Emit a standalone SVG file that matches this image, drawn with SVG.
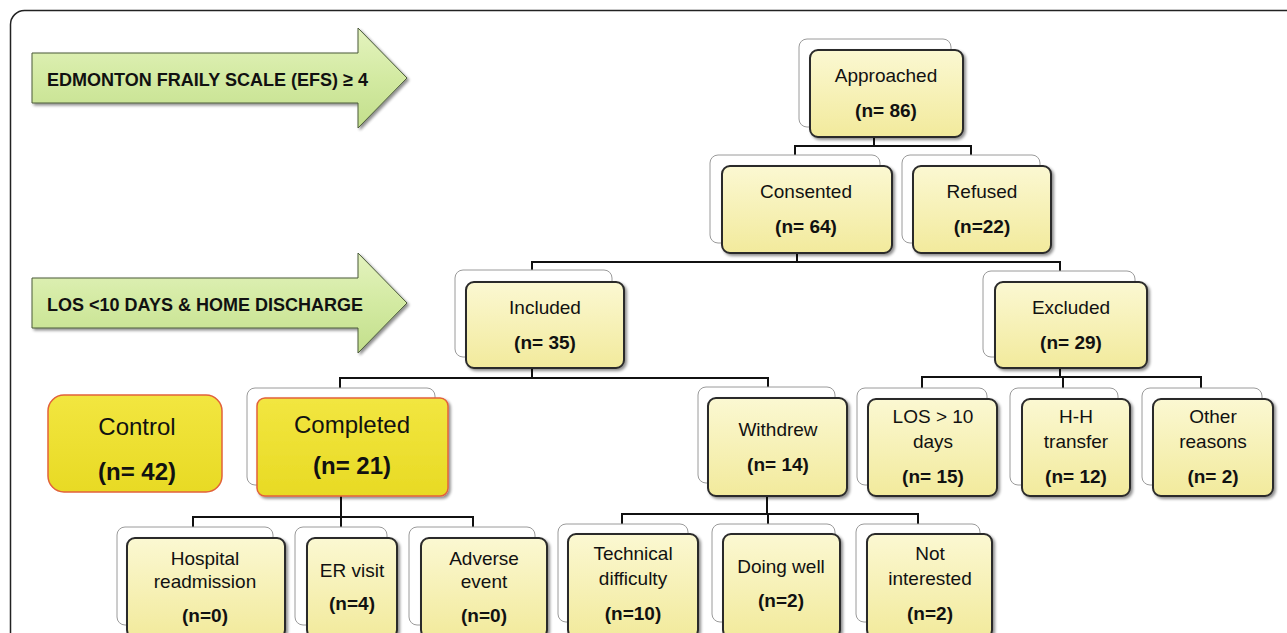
<svg xmlns="http://www.w3.org/2000/svg" width="1287" height="633" viewBox="0 0 1287 633">
<defs>
<linearGradient id="gy" x1="0" y1="0" x2="0" y2="1">
<stop offset="0" stop-color="#FBF8D2"/>
<stop offset="1" stop-color="#F2EA9C"/>
</linearGradient>
<linearGradient id="gb" x1="0" y1="0" x2="0" y2="1">
<stop offset="0" stop-color="#F2E640"/>
<stop offset="1" stop-color="#E8DA24"/>
</linearGradient>
<linearGradient id="gg" x1="0" y1="0" x2="0" y2="1">
<stop offset="0" stop-color="#E4F3BF"/>
<stop offset="0.5" stop-color="#D3EAA2"/>
<stop offset="1" stop-color="#C3DF8C"/>
</linearGradient>
<filter id="sh" x="-10%" y="-10%" width="130%" height="130%">
<feGaussianBlur in="SourceAlpha" stdDeviation="1.5"/>
<feOffset dx="1.5" dy="2" result="o"/>
<feComponentTransfer><feFuncA type="linear" slope="0.45"/></feComponentTransfer>
<feMerge><feMergeNode/><feMergeNode in="SourceGraphic"/></feMerge>
</filter>
</defs>
<style>
.frame{fill:none;stroke:#222;stroke-width:1.5}
.back{fill:#fff;stroke:#9a9a9a;stroke-width:1}
.front{fill:url(#gy);stroke:#2a2a2a;stroke-width:2;filter:url(#sh)}
.bright{fill:url(#gb);stroke:#E2613A;stroke-width:1.5}
.arrow{fill:url(#gg);stroke:#4a5a3a;stroke-width:1;filter:url(#sh)}
.t{font-family:"Liberation Sans",Arial,sans-serif;font-size:19px;fill:#111;text-anchor:middle}
.b{font-weight:bold}
.big{font-size:24px}
.at{font-family:"Liberation Sans",Arial,sans-serif;font-size:19px;font-weight:bold;fill:#111}
.c{fill:none;stroke:#111;stroke-width:2}
</style>
<rect class="frame" x="10.5" y="10.5" width="1320" height="700" rx="14"/>

<g id="arrow-efs">
<path class="arrow" d="M32,53 L358,53 L358,28 L407,78 L358,128 L358,103 L32,103 Z"/>
<text class="at" x="47" y="86" textLength="321" lengthAdjust="spacingAndGlyphs">EDMONTON  FRAILY SCALE (EFS) ≥ 4</text>
</g>
<g id="arrow-los">
<path class="arrow" d="M32,278 L358,278 L358,253 L407,303 L358,353 L358,328 L32,328 Z"/>
<text class="at" x="47" y="311" textLength="316" lengthAdjust="spacingAndGlyphs">LOS &lt;10 DAYS &amp; HOME DISCHARGE</text>
</g>

<g id="connectors">
<path class="c" d="M874,137 V146 M795,155 V146 H971 V155"/>
<path class="c" d="M797,253 V262 M532,271 V262 H1060 V271"/>
<path class="c" d="M532,368 V378 M340,388 V378 H768 V387"/>
<path class="c" d="M1060,368 V377 M922,388 V377 H1201 V388 M1063,377 V388"/>
<path class="c" d="M341,496 V517 M193,527 V517 H473 V527 M341,517 V527"/>
<path class="c" d="M767,496 V514 M622,524 V514 H918 V524 M768,514 V524"/>
</g>

<g id="approached">
<rect class="back" x="799" y="39" width="152" height="88" rx="8"/>
<rect class="front" x="810" y="50" width="153" height="87" rx="8"/>
<text class="t" x="886" y="82">Approached</text>
<text class="t b" x="886" y="117">(n= 86)</text>
</g>
<g id="consented">
<rect class="back" x="710" y="155" width="170" height="88" rx="8"/>
<rect class="front" x="722" y="166" width="170" height="87" rx="8"/>
<text class="t" x="806" y="198">Consented</text>
<text class="t b" x="806" y="233">(n= 64)</text>
</g>
<g id="refused">
<rect class="back" x="902" y="155" width="138" height="88" rx="8"/>
<rect class="front" x="913" y="166" width="138" height="87" rx="8"/>
<text class="t" x="982" y="198">Refused</text>
<text class="t b" x="982" y="233">(n=22)</text>
</g>
<g id="included">
<rect class="back" x="455" y="270" width="157" height="87" rx="8"/>
<rect class="front" x="466" y="282" width="158" height="86" rx="8"/>
<text class="t" x="545" y="314">Included</text>
<text class="t b" x="545" y="349">(n= 35)</text>
</g>
<g id="excluded">
<rect class="back" x="983" y="271" width="152" height="86" rx="8"/>
<rect class="front" x="995" y="282" width="152" height="86" rx="8"/>
<text class="t" x="1071" y="314">Excluded</text>
<text class="t b" x="1071" y="349">(n= 29)</text>
</g>
<g id="control">
<rect class="bright" x="48" y="395" width="174" height="97" rx="16"/>
<text class="t big" x="137" y="435">Control</text>
<text class="t b big" x="137" y="480">(n= 42)</text>
</g>
<g id="completed">
<rect class="back" x="247" y="388" width="188" height="97" rx="8"/>
<rect class="bright" x="257" y="398" width="191" height="98" rx="8" style="filter:url(#sh)"/>
<text class="t big" x="352" y="433">Completed</text>
<text class="t b big" x="352" y="474">(n= 21)</text>
</g>
<g id="withdrew">
<rect class="back" x="698" y="387" width="137" height="96" rx="8"/>
<rect class="front" x="708" y="398" width="139" height="98" rx="8"/>
<text class="t" x="778" y="436">Withdrew</text>
<text class="t b" x="778" y="471">(n= 14)</text>
</g>
<g id="los10">
<rect class="back" x="857" y="388" width="130" height="97" rx="8"/>
<rect class="front" x="868" y="399" width="129" height="97" rx="8"/>
<text class="t" x="933" y="423">LOS &gt; 10</text>
<text class="t" x="933" y="448">days</text>
<text class="t b" x="933" y="483">(n= 15)</text>
</g>
<g id="hh">
<rect class="back" x="1010" y="388" width="108" height="97" rx="8"/>
<rect class="front" x="1022" y="399" width="108" height="97" rx="8"/>
<text class="t" x="1076" y="423">H-H</text>
<text class="t" x="1076" y="448">transfer</text>
<text class="t b" x="1076" y="483">(n= 12)</text>
</g>
<g id="other">
<rect class="back" x="1142" y="388" width="120" height="97" rx="8"/>
<rect class="front" x="1153" y="399" width="120" height="97" rx="8"/>
<text class="t" x="1213" y="423">Other</text>
<text class="t" x="1213" y="448">reasons</text>
<text class="t b" x="1213" y="483">(n= 2)</text>
</g>
<g id="hospital">
<rect class="back" x="117" y="527" width="156" height="98" rx="8"/>
<rect class="front" x="127" y="538" width="158" height="100" rx="8"/>
<text class="t" x="205" y="565">Hospital</text>
<text class="t" x="205" y="588">readmission</text>
<text class="t b" x="205" y="622">(n=0)</text>
</g>
<g id="er">
<rect class="back" x="295" y="527" width="92" height="98" rx="8"/>
<rect class="front" x="307" y="538" width="90" height="100" rx="8"/>
<text class="t" x="352" y="577">ER visit</text>
<text class="t b" x="352" y="610">(n=4)</text>
</g>
<g id="adverse">
<rect class="back" x="409" y="527" width="126" height="98" rx="8"/>
<rect class="front" x="421" y="538" width="126" height="100" rx="8"/>
<text class="t" x="484" y="565">Adverse</text>
<text class="t" x="484" y="588">event</text>
<text class="t b" x="484" y="622">(n=0)</text>
</g>
<g id="technical">
<rect class="back" x="558" y="524" width="130" height="98" rx="8"/>
<rect class="front" x="568" y="534" width="130" height="104" rx="8"/>
<text class="t" x="633" y="560">Technical</text>
<text class="t" x="633" y="585">difficulty</text>
<text class="t b" x="633" y="620">(n=10)</text>
</g>
<g id="doingwell">
<rect class="back" x="712" y="524" width="123" height="98" rx="8"/>
<rect class="front" x="723" y="534" width="117" height="104" rx="8"/>
<text class="t" x="781" y="573">Doing well</text>
<text class="t b" x="781" y="607">(n=2)</text>
</g>
<g id="notinterested">
<rect class="back" x="856" y="524" width="124" height="98" rx="8"/>
<rect class="front" x="867" y="534" width="125" height="104" rx="8"/>
<text class="t" x="930" y="560">Not</text>
<text class="t" x="930" y="585">interested</text>
<text class="t b" x="930" y="620">(n=2)</text>
</g>
</svg>
